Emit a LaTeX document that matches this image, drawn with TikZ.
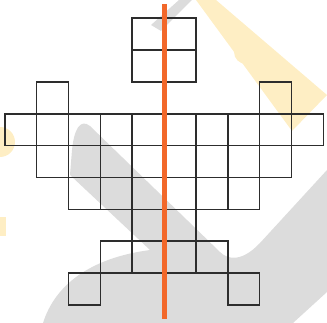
\documentclass[tikz,border=0pt]{standalone}
\definecolor{wmgray}{RGB}{220,220,220}
\definecolor{wmyellow}{RGB}{254,238,196}
\definecolor{gridc}{RGB}{45,45,45}
\definecolor{axisorange}{RGB}{242,104,42}
\tikzset{
  cell/.style={draw=gridc,line width=1.6pt},
  axisline/.style={draw=axisorange,line width=4.5pt},
  wmg/.style={fill=wmgray},
  wmy/.style={fill=wmyellow}
}
\begin{document}
\begin{tikzpicture}[x=1pt,y=-1pt]
\useasboundingbox (0,0) rectangle (327,323);
% faint watermark
\fill[wmy] (196,0) -- (216,0) -- (327,95) -- (292,131) -- cycle;
\fill[wmy] (246,52) circle (12);
\fill[wmy] (0,142) circle (15);
\fill[wmy] (0,217) rectangle (6,236);
\fill[wmg] (151,25) -- (161,31) -- (192,0) -- (179,0) -- cycle;
\fill[wmg] (43,323) .. controls (55,285) and (90,258) .. (150,250) -- (70,175) -- (72,150)
  .. controls (74,130) and (80,118) .. (90,126) -- (220,252)
  .. controls (228,260) and (242,262) .. (260,243) -- (327,170) -- (327,292) -- (293,323) -- cycle;
% grid of squares
\begin{scope}[xshift=4.8pt,yshift=-18.3pt,x=31.85pt,y=-31.85pt]
\foreach \c/\r in {4/0,5/0,4/1,5/1,1/2,8/2,
  0/3,1/3,2/3,3/3,4/3,5/3,6/3,7/3,8/3,9/3,
  1/4,2/4,3/4,4/4,5/4,6/4,7/4,8/4,
  2/5,3/5,4/5,5/5,6/5,7/5,
  4/6,5/6,
  3/7,4/7,5/7,6/7,
  2/8,7/8}
  \draw[cell] (\c,\r) rectangle ++(1,1);
\end{scope}
% axis of symmetry
\coordinate (axtop) at (164.4,4);
\coordinate (axbot) at (164.4,319.5);
\draw[axisline] (axtop) -- (axbot);
\end{tikzpicture}
\end{document}
